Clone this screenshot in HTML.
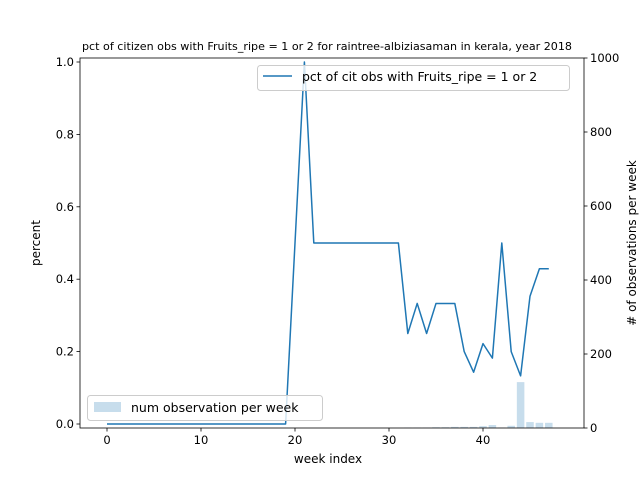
<!DOCTYPE html>
<html><head><meta charset="utf-8"><style>
body{margin:0;background:#fff}
svg{display:block;font-family:"DejaVu Sans","Liberation Sans",sans-serif}
</style></head><body>
<svg id="chart" width="640" height="480" xmlns="http://www.w3.org/2000/svg">
<text x="327" y="50" font-size="11" text-anchor="middle" textLength="490" lengthAdjust="spacingAndGlyphs">pct of citizen obs with Fruits_ripe = 1 or 2 for raintree-albiziasaman in kerala, year 2018</text>
<g id="bars"></g>
<g id="line"></g>
<g id="axes"></g>
<text x="328" y="463" font-size="12" text-anchor="middle">week index</text>
<text transform="translate(40,243) rotate(-90)" font-size="12" text-anchor="middle">percent</text>
<text transform="translate(636,243) rotate(-90)" font-size="12" text-anchor="middle"># of observations per week</text>
<g>
<rect x="257.5" y="65.5" width="312" height="25" rx="3" fill="#fff" fill-opacity="0.8" stroke="#ccc"/>
<line x1="263" y1="76" x2="292" y2="76" stroke="#1f77b4" stroke-width="1.5"/>
<text x="302" y="81" font-size="12.5">pct of cit obs with Fruits_ripe = 1 or 2</text>
</g>
<g>
<rect x="87.5" y="395.5" width="235" height="25" rx="3" fill="#fff" fill-opacity="0.8" stroke="#ccc"/>
<rect x="94" y="402" width="27" height="10" fill="#1f77b4" fill-opacity="0.25"/>
<text x="131" y="412" font-size="12.5">num observation per week</text>
</g>
</svg>
<script>
const weeks=[0,1,2,3,4,5,6,7,8,9,10,11,12,13,14,15,16,17,18,19,20,21,22,23,24,25,26,27,28,29,30,31,32,33,34,35,36,37,38,39,40,41,42,43,44,45,46,47];
const pctValues=[0,0,0,0,0,0,0,0,0,0,0,0,0,0,0,0,0,0,0,0,0.5,1,0.5,0.5,0.5,0.5,0.5,0.5,0.5,0.5,0.5,0.5,0.25,0.333,0.25,0.333,0.333,0.333,0.2,0.143,0.222,0.182,0.5,0.2,0.133,0.353,0.429,0.429];
const obsCounts=[0,0,0,0,0,0,0,0,0,0,0,0,0,0,0,0,0,0,0,0,0,0,0,0,0,0,0,0,0,0,0,0,1,1,1,2,2,3,3,3,5,8,1,6,124,16,14,14];
const xTicks=[0,10,20,30,40];
const yTicks=[0,0.2,0.4,0.6,0.8,1.0];
const y2Ticks=[0,200,400,600,800,1000];
const L=80,R=584,T=58,B=428;
const X=v=>107+(v)*9.4;
const Y=v=>424-v*362;
const Y2=v=>428-v*0.37;
const NS='http://www.w3.org/2000/svg';
function mk(tag,attrs,parent){const e=document.createElementNS(NS,tag);for(const k in attrs)e.setAttribute(k,attrs[k]);parent.appendChild(e);return e;}
const bars=document.getElementById('bars');
weeks.forEach((w,i)=>{
  const r=mk('rect',{x:X(w)-3.76,y:Y2(obsCounts[i]),width:7.52,height:Math.max(0,B-Y2(obsCounts[i])),fill:'#1f77b4','fill-opacity':0.25},bars);
  
  
});
const lineG=document.getElementById('line');
const p=mk('polyline',{points:weeks.map((w,i)=>X(w)+','+Y(pctValues[i])).join(' '),fill:'none',stroke:'#1f77b4','stroke-width':1.5,'stroke-linejoin':'round'},lineG);


const ax=document.getElementById('axes');
mk('rect',{x:L,y:T,width:R-L,height:B-T,fill:'none',stroke:'#000','stroke-width':0.8},ax);
xTicks.forEach(t=>{
  mk('line',{x1:X(t),x2:X(t),y1:B,y2:B+3.5,stroke:'#000','stroke-width':0.8},ax);
  const tx=mk('text',{x:X(t),y:B+16,'font-size':11.5,'text-anchor':'middle'},ax);tx.textContent=t;
  
  
});
yTicks.forEach(t=>{
  mk('line',{x1:L-3.5,x2:L,y1:Y(t),y2:Y(t),stroke:'#000','stroke-width':0.8},ax);
  const tx=mk('text',{x:L-6,y:Y(t)+4,'font-size':11.5,'text-anchor':'end'},ax);tx.textContent=t.toFixed(1);
  
  
});
y2Ticks.forEach(t=>{
  mk('line',{x1:R,x2:R+3.5,y1:Y2(t),y2:Y2(t),stroke:'#000','stroke-width':0.8},ax);
  const tx=mk('text',{x:R+6,y:Y2(t)+4,'font-size':11.5,'text-anchor':'start'},ax);tx.textContent=t;
  
  
});
</script>
</body></html>
